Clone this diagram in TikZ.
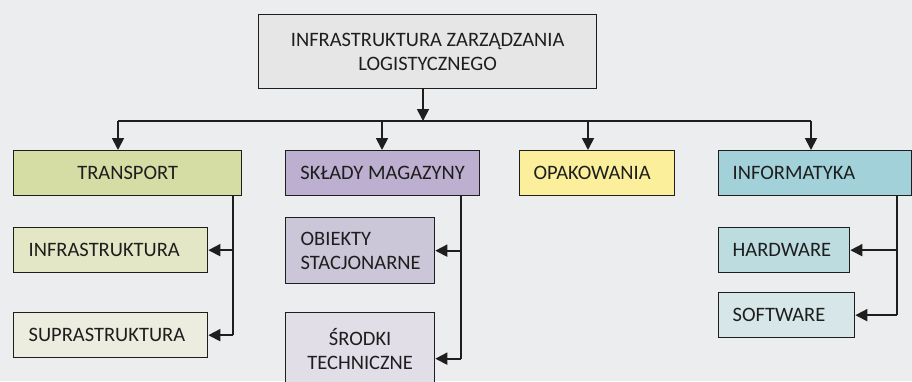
\documentclass[tikz,border=0pt]{standalone}
\usepackage{fontspec}
\setmainfont{Carlito}
\usetikzlibrary{arrows.meta}
\tikzset{>={Triangle[length=12pt,width=12pt]}}
\definecolor{bggray}{RGB}{236,237,238}
\definecolor{topgray}{RGB}{230,230,230}
\definecolor{olive1}{RGB}{214,221,164}
\definecolor{olive2}{RGB}{227,231,197}
\definecolor{olive3}{RGB}{236,237,223}
\definecolor{lila1}{RGB}{188,175,207}
\definecolor{lila2}{RGB}{203,198,216}
\definecolor{lila3}{RGB}{226,222,232}
\definecolor{yel1}{RGB}{252,239,155}
\definecolor{cyan1}{RGB}{162,209,218}
\definecolor{cyan2}{RGB}{189,220,224}
\definecolor{cyan3}{RGB}{215,230,232}
\definecolor{ink}{RGB}{30,30,30}

\begin{document}
\begin{tikzpicture}[x=1pt,y=-1pt,
    box/.style={draw=ink, line width=1.3pt, rectangle, anchor=north west,
        text=ink, font=\fontsize{20.5}{24}\selectfont},
    lbox/.style={box, align=left, inner xsep=15pt},
    conn/.style={draw=ink, line width=1.8pt}]
    \useasboundingbox[fill=bggray] (0,0) rectangle (912,381);
    % top level
    \node[box, fill=topgray, minimum width=338pt, minimum height=74pt, align=center] (infra) at (258,14)
        {INFRASTRUKTURA ZARZĄDZANIA\\LOGISTYCZNEGO};
    % second level
    \node[box, fill=olive1, minimum width=228pt, minimum height=45pt] (trans) at (13,150) {TRANSPORT};
    \node[box, fill=lila1, minimum width=194pt, minimum height=45pt] (sklady) at (285,150) {SKŁADY MAGAZYNY};
    \node[lbox, fill=yel1, text width=127pt, inner xsep=14pt, minimum height=45pt] (opak) at (519,150) {OPAKOWANIA};
    \node[lbox, fill=cyan1, text width=165pt, inner xsep=14pt, minimum height=45pt] (inform) at (718,150) {INFORMATYKA};
    % third level
    \node[lbox, fill=olive2, text width=164pt, minimum height=45pt] (infr) at (13,227) {INFRASTRUKTURA};
    \node[lbox, fill=olive3, text width=164pt, minimum height=45pt] (supra) at (13,312) {SUPRASTRUKTURA};
    \node[lbox, fill=lila2, text width=119pt, minimum height=66pt] (obiekty) at (285,217) {OBIEKTY\\STACJONARNE};
    \node[box, fill=lila3, minimum width=149pt, minimum height=72pt, align=center] (srodki) at (285,312) {ŚRODKI\\TECHNICZNE};
    \node[lbox, fill=cyan2, text width=103pt, inner xsep=14pt, minimum height=45pt] (hard) at (718,227) {HARDWARE};
    \node[lbox, fill=cyan3, text width=108pt, inner xsep=14pt, minimum height=45pt] (soft) at (718,292) {SOFTWARE};
    % bus under the top box
    \coordinate (bus) at (423,121);
    \coordinate (b1) at (118,121);
    \coordinate (b2) at (382,121);
    \coordinate (b3) at (588,121);
    \coordinate (b4) at (811,121);
    \draw[conn,->] (infra.south -| bus) -- (bus);
    \draw[conn] (b1) -- (b4);
    \foreach \b/\n in {b1/trans, b2/sklady, b3/opak, b4/inform}
        \draw[conn,->] (\b) -- (\b |- \n.north);
    % side branches
    \coordinate (tv) at (233,195);
    \coordinate (sv) at (461,195);
    \coordinate (iv) at (897,195);
    \coordinate (sr) at ([yshift=-10pt]srodki.east);
    \draw[conn, line width=1.4pt] (tv) -- (tv |- supra.east);
    \foreach \n in {infr, supra}
        \draw[conn,->] (tv |- \n.east) -- (\n.east);
    \draw[conn, line width=1.4pt] (sv) -- (sv |- sr);
    \draw[conn,->] (sv |- obiekty.east) -- (obiekty.east);
    \draw[conn,->] (sv |- sr) -- (sr);
    \draw[conn, line width=1.4pt] (iv) -- (iv |- soft.east);
    \foreach \n in {hard, soft}
        \draw[conn,->] (iv |- \n.east) -- (\n.east);
\end{tikzpicture}
\end{document}
